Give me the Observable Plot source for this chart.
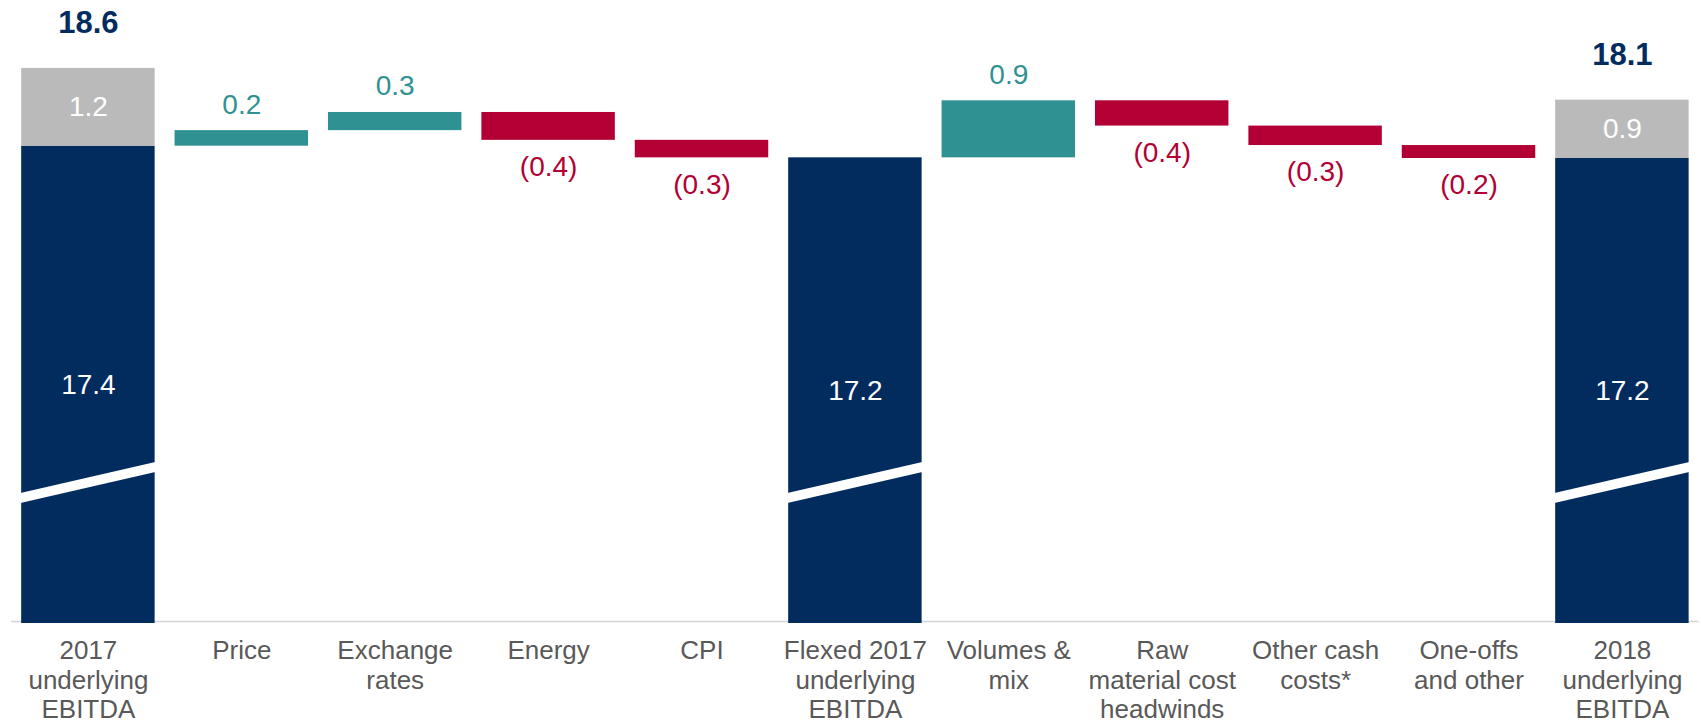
<!DOCTYPE html>
<html>
<head>
<meta charset="utf-8">
<script src="https://cdn.jsdelivr.net/npm/d3@7"></script>
<script src="https://cdn.jsdelivr.net/npm/@observablehq/plot@0.6"></script>
<style>
  html, body { margin: 0; padding: 0; background: #ffffff; }
  #chart svg { display: block; }
</style>
</head>
<body>
<div id="chart"></div>
<script>
// ---- Data ----
const categories = [
  "2017\nunderlying\nEBITDA",
  "Price",
  "Exchange\nrates",
  "Energy",
  "CPI",
  "Flexed 2017\nunderlying\nEBITDA",
  "Volumes &\nmix",
  "Raw\nmaterial cost\nheadwinds",
  "Other cash\ncosts*",
  "One-offs\nand other",
  "2018\nunderlying\nEBITDA"
];
// "total" columns: underlying (navy) value and one-off adjustment (grey) on top
const underlying  = [17.40, null, null, null, null, 17.22, null, null, null, null, 17.21];
const adjustments = [1.20,  null, null, null, null, null,  null, null, null, null, 0.90];
// bridge movements
const deltas = [null, 0.24, 0.28, -0.43, -0.27, null, 0.88, -0.39, -0.30, -0.20, null];

// ---- Derived table ----
const totals = [];
const moves = [];
let running = 0;
categories.forEach((c, i) => {
  if (underlying[i] != null) {
    const adj = adjustments[i] ?? 0;
    totals.push({i, base: underlying[i], adj, top: underlying[i] + adj});
    running = underlying[i];
  } else {
    const start = running, end = running + deltas[i];
    moves.push({i, delta: deltas[i], start, end, hi: Math.max(start, end), lo: Math.min(start, end)});
    running = end;
  }
});

const navy = "#022c5e", grey = "#bababa", teal = "#2f9191", red = "#b20035";
const yLo = 10.034, yHi = 19.648;   // broken value axis window
const half = 0.435;                 // half bar width in category units
const breakLeft = 11.974, breakRight = 12.449; // axis-break slash (value units at bar edges)
const slope = (breakRight - breakLeft) / (2 * half);
const f1 = d3.format(".1f");
const fmtDelta = v => v < 0 ? `(${f1(-v)})` : f1(v);

const chart = Plot.plot({
  width: 1701,
  height: 727,
  marginTop: 0,
  marginBottom: 104,
  marginLeft: 11.2,
  marginRight: 2.4,
  style: {fontFamily: "'Liberation Sans', Arial, Helvetica, sans-serif", background: "#ffffff"},
  x: {domain: [-0.5, categories.length - 0.5], label: null},
  y: {domain: [yLo, yHi], axis: null},
  marks: [
    Plot.ruleY([yLo], {stroke: "#d4d4d4", strokeWidth: 1.5, dy: -2}),
    // navy underlying bars (axis broken)
    Plot.rectY(totals, {x1: d => d.i - half, x2: d => d.i + half, y1: yLo, y2: d => d.base, fill: navy}),
    // grey one-off part
    Plot.rectY(totals.filter(d => d.adj > 0), {x1: d => d.i - half, x2: d => d.i + half, y1: d => d.base, y2: d => d.top, fill: grey}),
    // bridge movements
    Plot.rectY(moves, {x1: d => d.i - half, x2: d => d.i + half, y1: d => d.start, y2: d => d.end, fill: d => d.delta >= 0 ? teal : red}),
    // axis-break slash
    Plot.link(totals, {
      x1: d => d.i - 0.5, x2: d => d.i + 0.5,
      y1: breakLeft - slope * 0.065, y2: breakRight + slope * 0.065,
      stroke: "#ffffff", strokeWidth: 9.8
    }),
    // labels
    Plot.text(totals, {x: "i", y: d => (d.base + yLo) / 2, text: d => f1(d.base), fill: "#ffffff", fontSize: 28}),
    Plot.text(totals.filter(d => d.adj > 0), {x: "i", y: d => d.base + d.adj / 2, text: d => f1(d.adj), fill: "#ffffff", fontSize: 28}),
    Plot.text(totals.filter(d => d.adj > 0), {x: "i", y: "top", dy: -45, text: d => f1(d.top), fill: navy, fontSize: 31, fontWeight: "bold"}),
    Plot.text(moves.filter(d => d.delta >= 0), {x: "i", y: "hi", dy: -26, text: d => fmtDelta(d.delta), fill: teal, fontSize: 28}),
    Plot.text(moves.filter(d => d.delta < 0), {x: "i", y: "lo", dy: 27, text: d => fmtDelta(d.delta), fill: red, fontSize: 28}),
    Plot.axisX(d3.range(categories.length), {
      tickFormat: i => categories[i],
      tickSize: 0,
      tickPadding: 15,
      fontSize: 26,
      lineHeight: 1.125,
      color: "#595959",
      label: null
    })
  ]
});
document.getElementById("chart").appendChild(chart);
</script>
</body>
</html>
